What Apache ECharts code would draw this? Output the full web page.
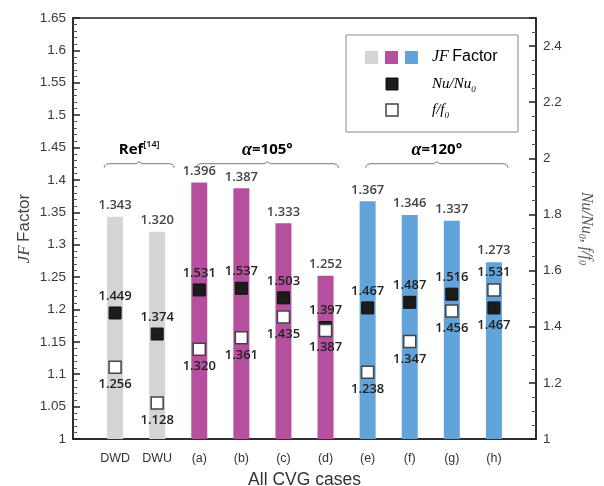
<!DOCTYPE html>
<html>
<head>
<meta charset="utf-8">
<script src="https://cdn.jsdelivr.net/npm/echarts@6/dist/echarts.min.js"></script>
<style>
  html, body { margin: 0; padding: 0; background: #fff; }
  #chart { width: 604px; height: 486px; }
</style>
</head>
<body>
<div id="chart"></div>
<script>
// Cases and measured ratios
const cases = ['DWD', 'DWU', '(a)', '(b)', '(c)', '(d)', '(e)', '(f)', '(g)', '(h)'];
const jfFactor = [1.343, 1.320, 1.396, 1.387, 1.333, 1.252, 1.367, 1.346, 1.337, 1.273];
const nuRatio = [1.449, 1.374, 1.531, 1.537, 1.503, 1.397, 1.467, 1.487, 1.516, 1.467];
const fRatio = [1.256, 1.128, 1.320, 1.361, 1.435, 1.387, 1.238, 1.347, 1.456, 1.531];
// Group index of each case: 0 = reference, 1 = alpha 105, 2 = alpha 120
const caseGroup = [0, 0, 1, 1, 1, 1, 2, 2, 2, 2];
// Which side the value label sits on for each marker
const nuLabelSide = ['top', 'top', 'top', 'top', 'top', 'top', 'top', 'top', 'top', 'bottom'];
const fLabelSide = ['bottom', 'bottom', 'bottom', 'bottom', 'bottom', 'bottom', 'bottom', 'bottom', 'bottom', 'top'];
// Axis scales
const jfAxis = { min: 1, max: 1.65, step: 0.05 };
const ratioAxis = { min: 1, max: 2.5, step: 0.2 };

const groupColors = ['#d4d5d7', '#b6509e', '#62a3d9'];
const groupSpans = [
  { first: 'DWD', last: 'DWU', padL: 11, padR: 17 },
  { first: '(a)', last: '(d)', padL: 3, padR: 13 },
  { first: '(e)', last: '(h)', padL: 2, padR: 14 }
];

const axisColor = '#222';
const sans = 'Liberation Sans';
const valueFont = 'Open Sans';

// blank slots at both ends keep the outer bars away from the frame
const categories = [''].concat(cases, ['']);
const pad = (arr) => ['-'].concat(arr, ['-']);

const barData = pad(jfFactor.map((v, i) => ({
  value: v,
  itemStyle: { color: groupColors[caseGroup[i]] }
})));
const nuData = pad(nuRatio.map((v, i) => ({ value: v, label: { position: nuLabelSide[i] } })));
const fData = pad(fRatio.map((v, i) => ({ value: v, label: { position: fLabelSide[i] } })));

const valueLabel = {
  show: true,
  distance: 4,
  fontFamily: valueFont,
  fontWeight: 600,
  fontSize: 13,
  formatter: (p) => p.value.toFixed(3)
};

const chart = echarts.init(document.getElementById('chart'), null, { renderer: 'canvas' });

chart.setOption({
  animation: false,
  backgroundColor: '#fff',
  grid: {
    left: 73, right: 68, top: 18, bottom: 47,
    outerBoundsMode: 'none',
    show: true, borderColor: axisColor, borderWidth: 1.5, backgroundColor: 'transparent'
  },
  xAxis: {
    type: 'category',
    data: categories,
    boundaryGap: false,
    axisLine: { lineStyle: { color: axisColor, width: 1.5 } },
    axisTick: { show: false },
    axisLabel: { color: '#333', fontFamily: sans, fontSize: 12.5, margin: 13, interval: 0 },
    name: 'All CVG cases',
    nameLocation: 'middle',
    nameGap: 32,
    nameMoveOverlap: false,
    nameTextStyle: { color: '#333', fontFamily: sans, fontSize: 17.5 }
  },
  yAxis: [
    {
      type: 'value',
      position: 'left',
      min: jfAxis.min, max: jfAxis.max, interval: jfAxis.step,
      splitLine: { show: false },
      axisLine: { show: true, lineStyle: { color: axisColor, width: 1.5 } },
      axisTick: { show: true, inside: true, length: 7, lineStyle: { color: axisColor, width: 1.5 } },
      minorTick: { show: true, splitNumber: 5, length: 4, lineStyle: { color: '#555', width: 1 } },
      axisLabel: { color: '#3a3a3a', fontFamily: sans, fontSize: 13.5, margin: 7 },
      name: '{i|JF} {s|Factor}',
      nameLocation: 'middle',
      nameGap: 40,
      nameMoveOverlap: false,
      nameRotate: 90,
      nameTextStyle: {
        color: '#444',
        rich: {
          i: { fontFamily: 'Liberation Serif', fontStyle: 'italic', fontSize: 17, color: '#444' },
          s: { fontFamily: sans, fontSize: 17, color: '#444' }
        }
      }
    },
    {
      type: 'value',
      position: 'right',
      min: ratioAxis.min, max: ratioAxis.max, interval: ratioAxis.step,
      splitLine: { show: false },
      axisLine: { show: true, lineStyle: { color: axisColor, width: 1.5 } },
      axisTick: { show: true, inside: true, length: 7, lineStyle: { color: axisColor, width: 1.5 } },
      minorTick: { show: true, splitNumber: 4, length: 4, lineStyle: { color: '#555', width: 1 } },
      axisLabel: { color: '#3a3a3a', fontFamily: sans, fontSize: 13.5, margin: 7, showMaxLabel: false },
      name: '{t|Nu/Nu}{b|0}{t|, f/f}{b|0}',
      nameLocation: 'middle',
      nameGap: 41,
      nameMoveOverlap: false,
      nameRotate: -90,
      nameTextStyle: {
        color: '#555',
        rich: {
          t: { fontFamily: 'Liberation Serif', fontStyle: 'italic', fontSize: 16, color: '#555', lineHeight: 18, verticalAlign: 'middle' },
          b: { fontFamily: 'Liberation Serif', fontStyle: 'italic', fontSize: 10, color: '#555', lineHeight: 18, verticalAlign: 'bottom', padding: [6, 0, 0, 0] }
        }
      }
    }
  ],
  series: [
    {
      name: 'JF Factor',
      type: 'bar',
      yAxisIndex: 0,
      barWidth: 16,
      data: barData,
      label: Object.assign({}, valueLabel, { position: 'top', color: '#444', distance: 5 })
    },
    {
      name: 'Nu/Nu0',
      type: 'scatter',
      yAxisIndex: 1,
      symbol: 'rect',
      symbolSize: 12,
      itemStyle: { color: '#1c1c1c', borderColor: '#111', borderWidth: 1, opacity: 1 },
      data: nuData,
      label: Object.assign({}, valueLabel, { color: '#222' })
    },
    {
      name: 'f/f0',
      type: 'scatter',
      yAxisIndex: 1,
      symbol: 'rect',
      symbolSize: 12,
      itemStyle: { color: '#fff', borderColor: '#444', borderWidth: 1.5, opacity: 1 },
      data: fData,
      label: Object.assign({}, valueLabel, { color: '#222' })
    }
  ]
});

// Group brackets and captions above the bars
const groupTitles = [
  '{b|Ref}{sup|[14]}',
  '{a|α}{b|=105°}',
  '{a|α}{b|=120°}'
];
const captionRich = {
  b: { fontFamily: valueFont, fontWeight: 700, fontSize: 15, color: '#333', lineHeight: 20, verticalAlign: 'middle' },
  a: { fontFamily: 'Liberation Serif', fontStyle: 'italic', fontWeight: 700, fontSize: 18, color: '#333', lineHeight: 20, verticalAlign: 'middle' },
  sup: { fontFamily: valueFont, fontWeight: 600, fontSize: 9, color: '#333', lineHeight: 20, verticalAlign: 'top' }
};

const graphics = [];
const bracketY = chart.convertToPixel({ yAxisIndex: 0 }, 1.425);
const captionY = chart.convertToPixel({ yAxisIndex: 0 }, 1.446);
groupSpans.forEach((g, k) => {
  const x0 = chart.convertToPixel({ xAxisIndex: 0 }, g.first) - g.padL;
  const x1 = chart.convertToPixel({ xAxisIndex: 0 }, g.last) + g.padR;
  const xm = (x0 + x1) / 2;
  const y = bracketY;
  graphics.push({
    type: 'polyline',
    shape: {
      points: [
        [x0, y + 4], [x0 + 0.6, y + 2], [x0 + 2, y + 0.6], [x0 + 5, y],
        [xm - 3, y], [xm, y - 2], [xm + 3, y],
        [x1 - 5, y], [x1 - 2, y + 0.6], [x1 - 0.6, y + 2], [x1, y + 4]
      ]
    },
    style: { fill: null, stroke: '#777', lineWidth: 1 },
    silent: true
  });
  graphics.push({
    type: 'text',
    x: xm, y: captionY,
    style: {
      text: groupTitles[k],
      rich: captionRich,
      align: 'center',
      verticalAlign: 'middle'
    },
    silent: true
  });
});

// Legend box
const lg = { x: 346, y: 35, w: 172, h: 97 };
graphics.push({
  type: 'rect',
  shape: { x: lg.x, y: lg.y, width: lg.w, height: lg.h },
  style: { fill: '#fff', stroke: '#888', lineWidth: 1 },
  silent: true
});
groupColors.forEach((c, i) => {
  graphics.push({
    type: 'rect',
    shape: { x: 365 + i * 20, y: 51, width: 13, height: 13 },
    style: { fill: c },
    silent: true
  });
});
graphics.push({
  type: 'rect',
  shape: { x: 386, y: 78, width: 12, height: 12 },
  style: { fill: '#1c1c1c', stroke: '#111', lineWidth: 1 },
  silent: true
});
graphics.push({
  type: 'rect',
  shape: { x: 386, y: 104, width: 12, height: 12 },
  style: { fill: '#fff', stroke: '#444', lineWidth: 1.5 },
  silent: true
});
const legendRich = {
  i: { fontFamily: 'Liberation Serif', fontStyle: 'italic', fontSize: 16, color: '#333', lineHeight: 20, verticalAlign: 'middle' },
  s: { fontFamily: sans, fontSize: 16, color: '#333', lineHeight: 20, verticalAlign: 'middle' },
  t: { fontFamily: 'Liberation Serif', fontStyle: 'italic', fontSize: 15, color: '#444', lineHeight: 20, verticalAlign: 'middle' },
  sub: { fontFamily: 'Liberation Serif', fontStyle: 'italic', fontSize: 9, color: '#444', lineHeight: 20, verticalAlign: 'bottom' }
};
[
  { text: '{i|JF} {s|Factor}', y: 57 },
  { text: '{t|Nu/Nu}{sub|0}', y: 84 },
  { text: '{t|f/f}{sub|0}', y: 110 }
].forEach((row) => {
  graphics.push({
    type: 'text',
    x: 432, y: row.y,
    style: { text: row.text, rich: legendRich, align: 'left', verticalAlign: 'middle' },
    silent: true
  });
});

chart.setOption({ graphic: graphics });
</script>
</body>
</html>
